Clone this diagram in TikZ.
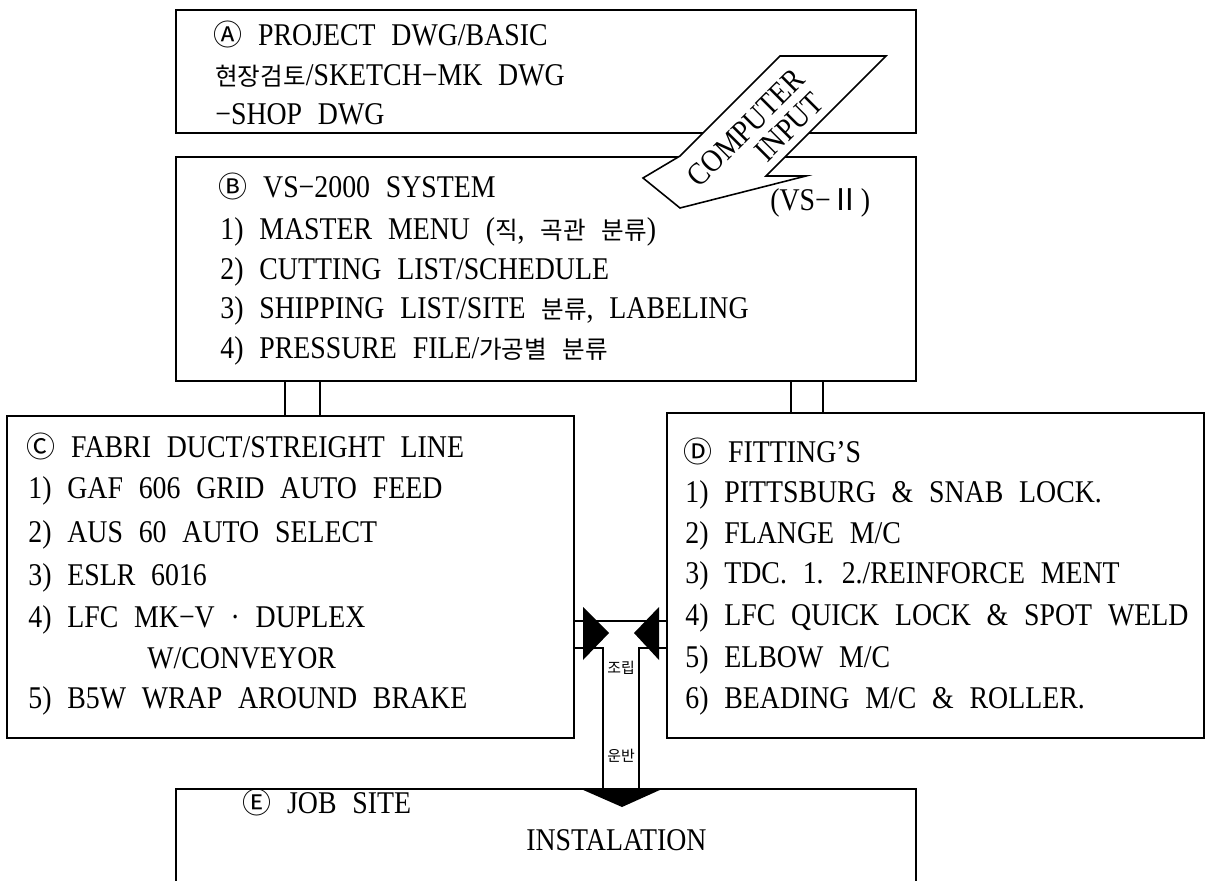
\documentclass[tikz,border=0pt]{standalone}
\usepackage{fontspec}
\setmainfont{Liberation Serif}[FakeStretch=0.88]
\newfontfamily\krfont{Noto Sans CJK KR}
\newcommand{\ko}[1]{{\krfont\fontsize{14pt}{15pt}\selectfont #1}}
\newcommand{\circl}[1]{{\krfont\fontsize{16.5pt}{16.5pt}\selectfont #1}}
\newcommand{\romtwo}{{\krfont\fontsize{17pt}{17pt}\selectfont Ⅱ}}
\tikzset{
  box/.style={draw, line width=0.9pt, inner sep=0pt, outer sep=0pt},
  wire/.style={line width=0.9pt, line join=miter},
  txt/.style={anchor=west, inner sep=0pt, text height=0.42cm, text depth=0pt,
    font={\fontsize{18pt}{20pt}\selectfont\spaceskip=0.5em plus 0.1em\relax}},
  slant/.style={inner sep=0pt, rotate=45,
    font={\fontsize{18pt}{20pt}\selectfont}},
  tag/.style={inner sep=0pt, font={\krfont\fontsize{8.5pt}{9pt}\selectfont}},
}
\begin{document}
\begin{tikzpicture}[x=0.02cm, y=-0.02cm]
\useasboundingbox (0,0) rectangle (1212,881);

% ---- Boxes ----
\node[box, minimum width=14.8cm,  minimum height=2.46cm] (boxA) at (546,71.5) {};
\node[box, minimum width=14.8cm,  minimum height=4.48cm] (boxB) at (546,269) {};
\node[box, minimum width=11.34cm, minimum height=6.44cm] (boxC) at (290.5,577) {};
\node[box, minimum width=10.74cm, minimum height=6.5cm]  (boxD) at (935.5,575.5) {};
\node[inner sep=0pt, outer sep=0pt, minimum width=14.8cm, minimum height=1.84cm] (boxE) at (546,835) {};
\draw[wire] (boxE.south west) |- (boxE.north east) -- (boxE.south east);

% ---- A ----
\node[txt] (a1) at (213,35)  {\circl{Ⓐ} PROJECT DWG/BASIC};
\node[txt] (a2) at (215,75)  {\ko{현장검토}/SKETCH−MK DWG};
\node[txt] (a3) at (215,114) {−SHOP DWG};

% ---- B ----
\node[txt] (b0) at (218,187) {\circl{Ⓑ} VS−2000 SYSTEM};
\node[txt] (b1) at (220,229) {1) MASTER MENU (\ko{직}, \ko{곡관 분류})};
\node[txt] (b2) at (220,269) {2) CUTTING LIST/SCHEDULE};
\node[txt] (b3) at (220,308) {3) SHIPPING LIST/SITE \ko{분류}, LABELING};
\node[txt] (b4) at (220,348) {4) PRESSURE FILE/\ko{가공별 분류}};

% ---- computer input arrow (covers the box lines) ----
\draw[wire, fill=white] (780,56) -- (886,56) -- (766,176) -- (806,176)
  -- (680,208) -- (643,178) -- (680,156) -- cycle;
\node[slant] (cin1) at (746,128) {COMPUTER};
\node[slant] (cin2) at (789,127) {INPUT};
\node[txt] (vs) at (770,200) {(VS−\romtwo)};

% ---- C ----
\node[txt] (c0) at (26,447)  {\circl{Ⓒ} FABRI DUCT/STREIGHT LINE};
\node[txt] (c1) at (28,488)  {1) GAF 606 GRID AUTO FEED};
\node[txt] (c2) at (28,532)  {2) AUS 60 AUTO SELECT};
\node[txt] (c3) at (28,575)  {3) ESLR 6016};
\node[txt] (c4) at (28,617)  {4) LFC MK−V · DUPLEX};
\node[txt] (c4b) at (147,658) {W/CONVEYOR};
\node[txt] (c5) at (28,698)  {5) B5W WRAP AROUND BRAKE};

% ---- D ----
\node[txt] (d0) at (683,452) {\circl{Ⓓ} FITTING’S};
\node[txt] (d1) at (685,492) {1) PITTSBURG \& SNAB LOCK.};
\node[txt] (d2) at (685,533) {2) FLANGE M/C};
\node[txt] (d3) at (685,573) {3) TDC. 1. 2./REINFORCE MENT};
\node[txt] (d4) at (685,615) {4) LFC QUICK LOCK \& SPOT WELD};
\node[txt] (d5) at (685,657) {5) ELBOW M/C};
\node[txt] (d6) at (685,698) {6) BEADING M/C \& ROLLER.};

% ---- E ----
\node[txt] (e0) at (242,803) {\circl{Ⓔ} JOB SITE};
\node[txt] (e1) at (526,840) {INSTALATION};

% ---- B -> C, B -> D ----
\coordinate (bc1) at (285,400);
\coordinate (bc2) at (320,400);
\coordinate (bd1) at (791,400);
\coordinate (bd2) at (823,400);
\foreach \p in {bc1,bc2} \draw[wire] (boxB.south -| \p) -- (boxC.north -| \p);
\foreach \p in {bd1,bd2} \draw[wire] (boxB.south -| \p) -- (boxD.north -| \p);

% ---- C, D -> E ----
\coordinate (mid) at (620,621);
\coordinate (chL) at (603,648);
\coordinate (chR) at (639,648);
\draw[wire] (boxC.east |- mid) -- (boxD.west |- mid);
\draw[wire] (boxC.east |- chL) -- (chL) -- (chL |- boxE.north);
\draw[wire] (boxD.west |- chR) -- (chR) -- (chR |- boxE.north);
\fill (583,607) -- (609,633) -- (583,660) -- cycle;
\fill (659,607) -- (634,633) -- (659,660) -- cycle;
\fill (581,789) -- (662,789) -- (622,807) -- cycle;
\node[tag] (asm) at (621,668) {조립};
\node[tag] (mov) at (621,756) {운반};
\end{tikzpicture}
\end{document}
